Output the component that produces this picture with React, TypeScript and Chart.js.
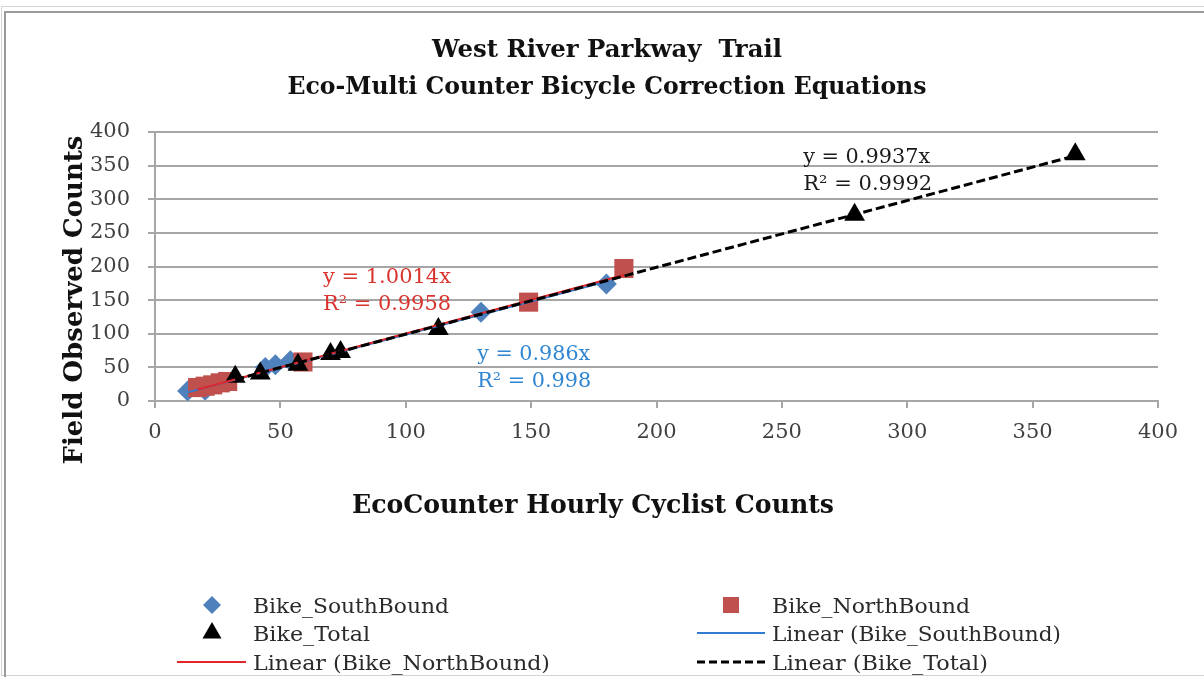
import React, { useEffect, useRef } from "react";
import { Chart, registerables } from "chart.js";

Chart.register(...registerables);

// ---- data ----
const southX = [13, 20, 44, 48, 54, 130, 180];
const southY = [15, 16, 50, 54, 60, 132, 174];
const northX = [17, 20, 23, 26, 29, 59, 149, 187];
const northY = [20, 22, 24, 27, 29, 58, 147, 197];
const totalX = [32, 42, 57, 70, 74, 113, 279, 367];
const totalY = [36, 41, 54, 70, 73, 107, 277, 367];

const southSlope = 0.986;
const southR2 = 0.998;
const northSlope = 1.0014;
const northR2 = 0.9958;
const totalSlope = 0.9937;
const totalR2 = 0.9992;

const xTicks = [0, 50, 100, 150, 200, 250, 300, 350, 400];
const yTicks = [0, 50, 100, 150, 200, 250, 300, 350, 400];

const titleLines = ["West River Parkway  Trail", "Eco-Multi Counter Bicycle Correction Equations"];
const xTitle = "EcoCounter Hourly Cyclist Counts";
const yTitle = "Field Observed Counts";
const seriesNames = ["Bike_SouthBound", "Bike_NorthBound", "Bike_Total"];

// ---- styles ----
const BLUE_MARK = "#4f81bd";
const RED_MARK = "#c0504d";
const BLUE_LINE = "#2e7bcf";
const RED_LINE = "#e0262a";
const BLUE_TEXT = "#2f86d2";
const RED_TEXT = "#d9332d";
const GRID = "#a6a6a6";
const SERIF = "'DejaVu Serif', 'Liberation Serif', serif";

const pts = (xs: number[], ys: number[]) => xs.map((x, i) => ({ x, y: ys[i] }));
const fitLine = (xs: number[], slope: number) => {
  const lo = Math.min(...xs);
  const hi = Math.max(...xs);
  return [
    { x: lo, y: slope * lo },
    { x: hi, y: slope * hi },
  ];
};

function fitText(
  ctx: CanvasRenderingContext2D,
  text: string,
  x: number,
  baseline: number,
  font: string,
  width: number,
  color: string,
  align: "left" | "center" = "left"
) {
  ctx.save();
  ctx.font = font;
  ctx.fillStyle = color;
  ctx.textBaseline = "alphabetic";
  ctx.textAlign = "left";
  const w = ctx.measureText(text).width;
  const s = width / w;
  ctx.translate(x, baseline);
  ctx.scale(s, 1);
  ctx.fillText(text, align === "center" ? -w / 2 : 0, 0);
  ctx.restore();
}

function marker(ctx: CanvasRenderingContext2D, kind: string, x: number, y: number, color: string) {
  ctx.save();
  ctx.fillStyle = color;
  ctx.beginPath();
  if (kind === "diamond") {
    const r = 9;
    ctx.moveTo(x, y - r);
    ctx.lineTo(x + r, y);
    ctx.lineTo(x, y + r);
    ctx.lineTo(x - r, y);
  } else if (kind === "square") {
    ctx.rect(x - 8, y - 8, 16, 16);
  } else {
    const r = 11;
    ctx.moveTo(x, y - r);
    ctx.lineTo(x + r * 0.866, y + r * 0.5);
    ctx.lineTo(x - r * 0.866, y + r * 0.5);
  }
  ctx.closePath();
  ctx.fill();
  ctx.restore();
}

function lineSample(ctx: CanvasRenderingContext2D, x1: number, x2: number, y: number, color: string, dash: number[], w: number) {
  ctx.save();
  ctx.strokeStyle = color;
  ctx.lineWidth = w;
  ctx.setLineDash(dash);
  ctx.beginPath();
  ctx.moveTo(x1, y);
  ctx.lineTo(x2, y);
  ctx.stroke();
  ctx.restore();
}

const decorPlugin = {
  id: "decor",
  beforeDraw(chart: any) {
    const ctx: CanvasRenderingContext2D = chart.ctx;
    ctx.save();
    ctx.fillStyle = "#ffffff";
    ctx.fillRect(0, 0, chart.width, chart.height);
    ctx.strokeStyle = "#d4d4d4";
    ctx.lineWidth = 1;
    ctx.strokeRect(1.5, 6.5, chart.width + 10, 669);
    ctx.strokeStyle = "#9a9a9a";
    ctx.lineWidth = 2;
    ctx.strokeRect(5, 12, chart.width + 10, 700);
    ctx.restore();
  },
  afterDraw(chart: any) {
    const ctx: CanvasRenderingContext2D = chart.ctx;
    const xs = chart.scales.x;
    const ys = chart.scales.y;

    // title
    const tFont = `bold 25px ${SERIF}`;
    fitText(ctx, titleLines[0], 607, 57, tFont, 350, "#111", "center");
    fitText(ctx, titleLines[1], 607, 94, tFont, 639, "#111", "center");

    // axis titles
    const aFont = `bold 26px ${SERIF}`;
    fitText(ctx, xTitle, 593, 513, aFont, 482, "#111", "center");
    ctx.save();
    ctx.translate(82, 300);
    ctx.rotate(-Math.PI / 2);
    fitText(ctx, yTitle, 0, 0, aFont, 329, "#111", "center");
    ctx.restore();

    // trendline equations
    const eFont = `21px ${SERIF}`;
    const eq = (slope: number, r2: number, dx: number, dy: number, w1: number, w2: number, color: string) => {
      const px = xs.getPixelForValue(dx);
      const py = ys.getPixelForValue(dy);
      fitText(ctx, `y = ${slope}x`, px, py + 8, eFont, w1, color);
      fitText(ctx, `R² = ${r2}`, px, py + 35, eFont, w2, color);
    };
    eq(northSlope, northR2, 67, 187, 128, 128, RED_TEXT);
    eq(southSlope, southR2, 128.5, 73, 113, 114, BLUE_TEXT);
    eq(totalSlope, totalR2, 258.5, 366, 127, 129, "#1a1a1a");

    // legend
    const lFont = `21px ${SERIF}`;
    const lc = "#2a2a2a";
    const rows = [605, 633, 662];
    marker(ctx, "diamond", 212, rows[0], BLUE_MARK);
    fitText(ctx, seriesNames[0], 253, rows[0] + 8, lFont, 196, lc);
    marker(ctx, "square", 731, rows[0], RED_MARK);
    fitText(ctx, seriesNames[1], 772, rows[0] + 8, lFont, 198, lc);
    marker(ctx, "triangle", 212, rows[1], "#000");
    fitText(ctx, seriesNames[2], 253, rows[1] + 8, lFont, 117, lc);
    lineSample(ctx, 697, 765, rows[1], BLUE_LINE, [], 2);
    fitText(ctx, `Linear (${seriesNames[0]})`, 772, rows[1] + 8, lFont, 289, lc);
    lineSample(ctx, 177, 246, rows[2], RED_LINE, [], 2);
    fitText(ctx, `Linear (${seriesNames[1]})`, 253, rows[2] + 8, lFont, 297, lc);
    lineSample(ctx, 697, 765, rows[2], "#000", [8, 4], 3);
    fitText(ctx, `Linear (${seriesNames[2]})`, 772, rows[2] + 8, lFont, 216, lc);
  },
};

export default function App() {
  const ref = useRef<HTMLCanvasElement | null>(null);

  useEffect(() => {
    if (!ref.current) return;
    const chart = new Chart(ref.current, {
      type: "scatter",
      data: {
        datasets: [
          {
            type: "line",
            label: `Linear (${seriesNames[2]})`,
            data: fitLine(totalX, totalSlope),
            borderColor: "#000",
            borderWidth: 3,
            borderDash: [9, 4],
            pointRadius: 0,
            fill: false,
            order: 0,
          },
          {
            type: "line",
            label: `Linear (${seriesNames[1]})`,
            data: fitLine(northX, northSlope),
            borderColor: RED_LINE,
            borderWidth: 2,
            pointRadius: 0,
            fill: false,
            order: 1,
          },
          {
            type: "line",
            label: `Linear (${seriesNames[0]})`,
            data: fitLine(southX, southSlope),
            borderColor: BLUE_LINE,
            borderWidth: 2,
            pointRadius: 0,
            fill: false,
            order: 2,
          },
          {
            label: seriesNames[2],
            data: pts(totalX, totalY),
            pointStyle: "triangle",
            pointRadius: 12,
            backgroundColor: "#000",
            borderColor: "#000",
            borderWidth: 0,
            order: 3,
          },
          {
            label: seriesNames[1],
            data: pts(northX, northY),
            pointStyle: "rect",
            pointRadius: 13.5,
            backgroundColor: RED_MARK,
            borderColor: RED_MARK,
            borderWidth: 0,
            order: 4,
          },
          {
            label: seriesNames[0],
            data: pts(southX, southY),
            pointStyle: "rectRot",
            pointRadius: 10.5,
            backgroundColor: BLUE_MARK,
            borderColor: BLUE_MARK,
            borderWidth: 0,
            order: 5,
          },
        ] as any,
      },
      options: {
        responsive: false,
        animation: false,
        events: [],
        layout: { padding: { left: 0, top: 132, right: 46, bottom: 0 } },
        plugins: {
          legend: { display: false },
          title: { display: false },
          tooltip: { enabled: false },
        },
        scales: {
          x: {
            type: "linear",
            min: 0,
            max: 400,
            afterBuildTicks: (s: any) => {
              s.ticks = xTicks.map((v) => ({ value: v }));
            },
            afterFit: (s: any) => {
              s.height = 276;
            },
            ticks: {
              autoSkip: false,
              maxRotation: 0,
              padding: 12,
              color: "#404040",
              font: { family: SERIF, size: 21 },
            },
            grid: { drawOnChartArea: false, drawTicks: true, tickLength: 7, color: GRID, lineWidth: 2 },
            border: { color: GRID, width: 2 },
          },
          y: {
            type: "linear",
            min: 0,
            max: 400,
            afterBuildTicks: (s: any) => {
              s.ticks = yTicks.map((v) => ({ value: v }));
            },
            afterFit: (s: any) => {
              s.width = 155;
            },
            ticks: {
              autoSkip: false,
              padding: 18,
              color: "#404040",
              font: { family: SERIF, size: 21 },
            },
            grid: { drawTicks: true, tickLength: 7, color: GRID, lineWidth: 2 },
            border: { color: GRID, width: 2 },
          },
        },
      } as any,
      plugins: [decorPlugin],
    });
    return () => chart.destroy();
  }, []);

  return (
    <div style={{ position: "fixed", left: 0, top: 0, width: 1204, height: 677, background: "#fff" }}>
      <canvas ref={ref} width={1204} height={677} style={{ width: 1204, height: 677, display: "block" }} />
    </div>
  );
}
